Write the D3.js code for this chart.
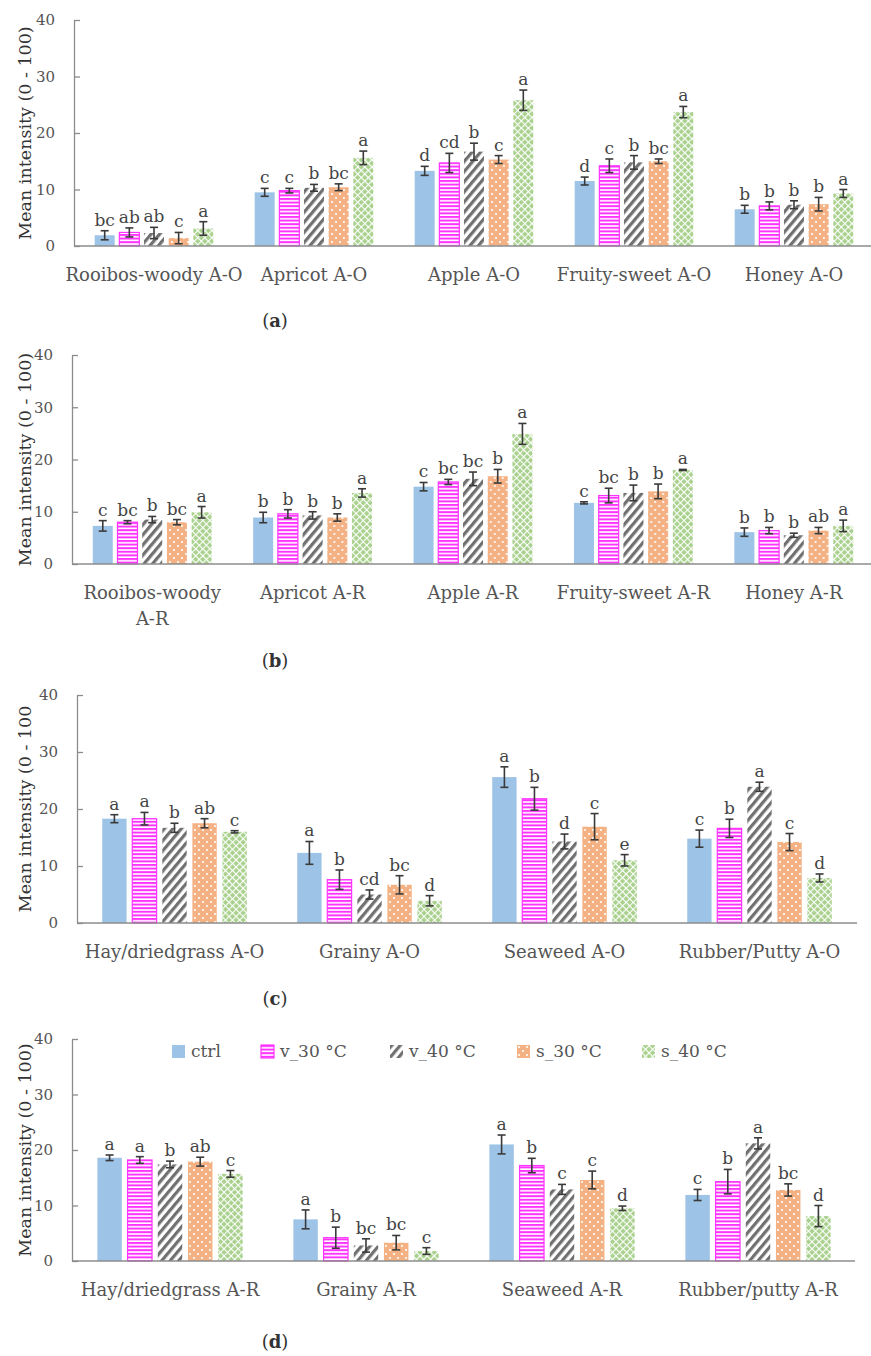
<!DOCTYPE html>
<html>
<head>
<meta charset="utf-8">
<script src="https://cdn.jsdelivr.net/npm/d3@7"></script>
<style>
  body { margin: 0; background: #fff; }
  text { font-family: "DejaVu Serif", serif; }
</style>
</head>
<body>
<svg id="chart" width="871" height="1356"></svg>
<script>
// series (treatments)
var series = ["ctrl", "v_30 °C", "v_40 °C", "s_30 °C", "s_40 °C"];

// (a) aroma orthonasal
var catsA = ["Rooibos-woody A-O", "Apricot A-O", "Apple A-O", "Fruity-sweet A-O", "Honey A-O"];
var meansA = [[1.9, 2.4, 2.3, 1.4, 3.1], [9.5, 9.8, 10.3, 10.4, 15.6], [13.3, 14.7, 16.7, 15.3, 25.8], [11.5, 14.2, 14.8, 15.0, 23.7], [6.5, 7.1, 7.3, 7.4, 9.3]];
var errA = [[0.8, 0.8, 1.0, 1.0, 1.2], [0.7, 0.4, 0.6, 0.6, 1.2], [0.8, 1.7, 1.5, 0.7, 1.8], [0.7, 1.2, 1.2, 0.4, 1.0], [0.7, 0.7, 0.7, 1.2, 0.7]];
var letA = [["bc", "ab", "ab", "c", "a"], ["c", "c", "b", "bc", "a"], ["d", "cd", "b", "c", "a"], ["d", "c", "b", "bc", "a"], ["b", "b", "b", "b", "a"]];

// (b) aroma retronasal
var catsB = ["Rooibos-woody\nA-R", "Apricot A-R", "Apple A-R", "Fruity-sweet A-R", "Honey A-R"];
var meansB = [[7.3, 8.0, 8.5, 8.0, 9.9], [8.9, 9.6, 9.3, 8.9, 13.6], [14.8, 15.7, 16.3, 16.8, 24.9], [11.7, 13.1, 13.6, 13.9, 18.0], [6.1, 6.4, 5.5, 6.4, 7.3]];
var errB = [[1.0, 0.3, 0.6, 0.5, 1.1], [1.0, 0.8, 0.7, 0.7, 0.8], [0.8, 0.5, 1.3, 1.3, 2.0], [0.2, 1.4, 1.5, 1.4, 0.1], [0.8, 0.6, 0.4, 0.6, 1.1]];
var letB = [["c", "bc", "b", "bc", "a"], ["b", "b", "b", "b", "a"], ["c", "bc", "bc", "b", "a"], ["c", "bc", "b", "b", "a"], ["b", "b", "b", "ab", "a"]];

// (c)
var catsC = ["Hay/driedgrass A-O", "Grainy A-O", "Seaweed A-O", "Rubber/Putty A-O"];
var meansC = [[18.3, 18.3, 16.7, 17.5, 16.0], [12.3, 7.6, 5.0, 6.7, 3.9], [25.6, 21.8, 14.3, 16.9, 11.0], [14.8, 16.6, 23.9, 14.2, 7.9]];
var errC = [[0.7, 1.1, 0.8, 0.8, 0.2], [2.0, 1.7, 0.8, 1.6, 0.9], [1.8, 2.0, 1.3, 2.3, 1.0], [1.5, 1.6, 0.8, 1.5, 0.7]];
var letC = [["a", "a", "b", "ab", "c"], ["a", "b", "cd", "bc", "d"], ["a", "b", "d", "c", "e"], ["c", "b", "a", "c", "d"]];

// (d)
var catsD = ["Hay/driedgrass A-R", "Grainy A-R", "Seaweed A-R", "Rubber/putty A-R"];
var meansD = [[18.6, 18.2, 17.4, 17.9, 15.7], [7.5, 4.2, 2.8, 3.3, 1.8], [21.0, 17.2, 12.9, 14.6, 9.5], [11.9, 14.3, 21.2, 12.8, 8.1]];
var errD = [[0.5, 0.6, 0.6, 0.8, 0.6], [1.7, 1.9, 1.2, 1.3, 0.6], [1.7, 1.3, 0.9, 1.6, 0.4], [1.0, 2.2, 1.0, 1.1, 1.9]];
var letD = [["a", "a", "b", "ab", "c"], ["a", "b", "bc", "bc", "c"], ["a", "b", "c", "c", "d"], ["c", "b", "a", "bc", "d"]];

var yTicks = [0, 10, 20, 30, 40];

var svg = d3.select("#chart");
var defs = svg.append("defs");

//Patterns for the bars
var pink = defs.append("pattern").attr("id", "p1").attr("patternUnits", "userSpaceOnUse")
  .attr("width", 4).attr("height", 3.6);
pink.append("rect").attr("width", 4).attr("height", 3.6).attr("fill", "#fff");
pink.append("rect").attr("width", 4).attr("height", 2).attr("fill", "#ff33ff");

var grey = defs.append("pattern").attr("id", "p2").attr("patternUnits", "userSpaceOnUse")
  .attr("width", 6.5).attr("height", 6.5).attr("patternTransform", "rotate(40)");
grey.append("rect").attr("width", 6.5).attr("height", 6.5).attr("fill", "#fff");
grey.append("rect").attr("width", 3.2).attr("height", 6.5).attr("fill", "#707070");

var orange = defs.append("pattern").attr("id", "p3").attr("patternUnits", "userSpaceOnUse")
  .attr("width", 8).attr("height", 8);
orange.append("rect").attr("width", 8).attr("height", 8).attr("fill", "#f4b183");
orange.append("circle").attr("cx", 2).attr("cy", 2).attr("r", 1.1).attr("fill", "#fff");
orange.append("circle").attr("cx", 6).attr("cy", 6).attr("r", 1.1).attr("fill", "#fff");

var green = defs.append("pattern").attr("id", "p4").attr("patternUnits", "userSpaceOnUse")
  .attr("width", 5).attr("height", 5).attr("patternTransform", "rotate(45)");
green.append("rect").attr("width", 5).attr("height", 5).attr("fill", "#a9d18e");
green.append("rect").attr("width", 5).attr("height", 1.1).attr("fill", "#fff");
green.append("rect").attr("width", 1.1).attr("height", 5).attr("fill", "#fff");

var fills = ["#9dc3e6", "url(#p1)", "url(#p2)", "url(#p3)", "url(#p4)"];
var strokes = ["none", "#ff33ff", "none", "none", "none"];

var panels = [
  {cats: catsA, means: meansA, errs: errA, lets: letA, left: 74, right: 874, axisEnd: 871, y0: 246, y40: 20, catY: 281, tag: "a", tagY: 327, title: "Mean intensity (0 - 100)"},
  {cats: catsB, means: meansB, errs: errB, lets: letB, left: 72, right: 874, axisEnd: 871, y0: 564, y40: 355, catY: 599, tag: "b", tagY: 667, title: "Mean intensity (0 - 100)"},
  {cats: catsC, means: meansC, errs: errC, lets: letC, left: 77, right: 857, axisEnd: 857, y0: 923, y40: 695, catY: 958, tag: "c", tagY: 1005, title: "Mean intensity (0 - 100"},
  {cats: catsD, means: meansD, errs: errD, lets: letD, left: 72, right: 856, axisEnd: 855, y0: 1261, y40: 1039, catY: 1296, tag: "d", tagY: 1348, title: "Mean intensity (0 - 100)"}
];

panels.forEach(function(p) {
  var g = svg.append("g");

  var x0 = d3.scaleBand().domain(p.cats).range([p.left, p.right]);
  var x1 = d3.scaleBand().domain(d3.range(series.length)).range([0, x0.bandwidth()])
    .paddingInner(0.19).paddingOuter(0.84);
  var y = d3.scaleLinear().domain([0, 40]).range([p.y0, p.y40]);

  //Y axis, ticks point inward
  var yAxis = d3.axisLeft(y).tickValues(yTicks).tickSizeInner(-6).tickSizeOuter(0).tickPadding(19);
  var ya = g.append("g").attr("transform", "translate(" + p.left + ",0)").call(yAxis);
  ya.select(".domain").attr("stroke", "#8c8c8c").attr("stroke-width", 1.3);
  ya.selectAll(".tick line").attr("stroke", "#8c8c8c").attr("stroke-width", 1.3);
  ya.selectAll(".tick text").attr("fill", "#555").style("font-size", "15px")
    .style("font-family", "DejaVu Serif, serif");

  //bars
  p.cats.forEach(function(c, ci) {
    var grp = g.append("g").attr("transform", "translate(" + x0(c) + ",0)");
    grp.selectAll("rect").data(p.means[ci]).enter().append("rect")
      .attr("x", function(d, i) { return x1(i); })
      .attr("y", function(d) { return y(d); })
      .attr("width", x1.bandwidth())
      .attr("height", function(d) { return y(0) - y(d); })
      .attr("fill", function(d, i) { return fills[i]; })
      .attr("stroke", function(d, i) { return strokes[i]; })
      .attr("stroke-width", 1.2);

    //error bars
    var eb = grp.selectAll("g.err").data(p.means[ci]).enter().append("g").attr("class", "err")
      .attr("stroke", "#3a3a3a").attr("stroke-width", 1.6);
    eb.append("line")
      .attr("x1", function(d, i) { return x1(i) + x1.bandwidth() / 2; })
      .attr("x2", function(d, i) { return x1(i) + x1.bandwidth() / 2; })
      .attr("y1", function(d, i) { return y(d - p.errs[ci][i]); })
      .attr("y2", function(d, i) { return y(d + p.errs[ci][i]); });
    [-1, 1].forEach(function(s) {
      eb.append("line")
        .attr("x1", function(d, i) { return x1(i) + x1.bandwidth() / 2 - 4; })
        .attr("x2", function(d, i) { return x1(i) + x1.bandwidth() / 2 + 4; })
        .attr("y1", function(d, i) { return y(d + s * p.errs[ci][i]); })
        .attr("y2", function(d, i) { return y(d + s * p.errs[ci][i]); });
    });

    //significance letters
    grp.selectAll("text.let").data(p.lets[ci]).enter().append("text").attr("class", "let")
      .attr("x", function(d, i) { return x1(i) + x1.bandwidth() / 2; })
      .attr("y", function(d, i) { return y(p.means[ci][i] + p.errs[ci][i]) - 5; })
      .attr("text-anchor", "middle")
      .attr("fill", "#444")
      .style("font-size", "17px")
      .text(function(d) { return d; });
  });

  //x axis line
  g.append("line").attr("x1", p.left).attr("x2", p.axisEnd)
    .attr("y1", y(0)).attr("y2", y(0))
    .attr("stroke", "#8c8c8c").attr("stroke-width", 1.3);

  //category labels
  p.cats.forEach(function(c) {
    var t = g.append("text").attr("text-anchor", "middle").attr("fill", "#555")
      .style("font-size", "18px")
      .attr("x", x0(c) + x0.bandwidth() / 2).attr("y", p.catY);
    c.split("\n").forEach(function(line, li) {
      t.append("tspan").attr("x", x0(c) + x0.bandwidth() / 2).attr("dy", li ? 26 : 0).text(line);
    });
  });

  //y title
  g.append("text")
    .attr("transform", "translate(31," + ((p.y0 + p.y40) / 2) + ") rotate(-90)")
    .attr("text-anchor", "middle").attr("fill", "#333")
    .style("font-size", "17.5px")
    .text(p.title);

  //panel tag
  var tg = g.append("text").attr("x", 275).attr("y", p.tagY).attr("text-anchor", "middle")
    .attr("fill", "#333").style("font-size", "18px");
  tg.append("tspan").text("(");
  tg.append("tspan").style("font-weight", "bold").text(p.tag);
  tg.append("tspan").text(")");
});

//Legend in panel (d)
var legX = [172, 261, 390, 517, 642];
var leg = svg.append("g").selectAll("g").data(series).enter().append("g")
  .attr("transform", function(d, i) { return "translate(" + legX[i] + ",1045)"; });
leg.append("rect").attr("width", 13).attr("height", 13)
  .attr("fill", function(d, i) { return fills[i]; })
  .attr("stroke", function(d, i) { return strokes[i]; })
  .attr("stroke-width", 1.2);
leg.append("text").attr("x", 19).attr("y", 12)
  .attr("fill", "#555").style("font-size", "17px")
  .text(function(d) { return d; });
</script>
</body>
</html>
